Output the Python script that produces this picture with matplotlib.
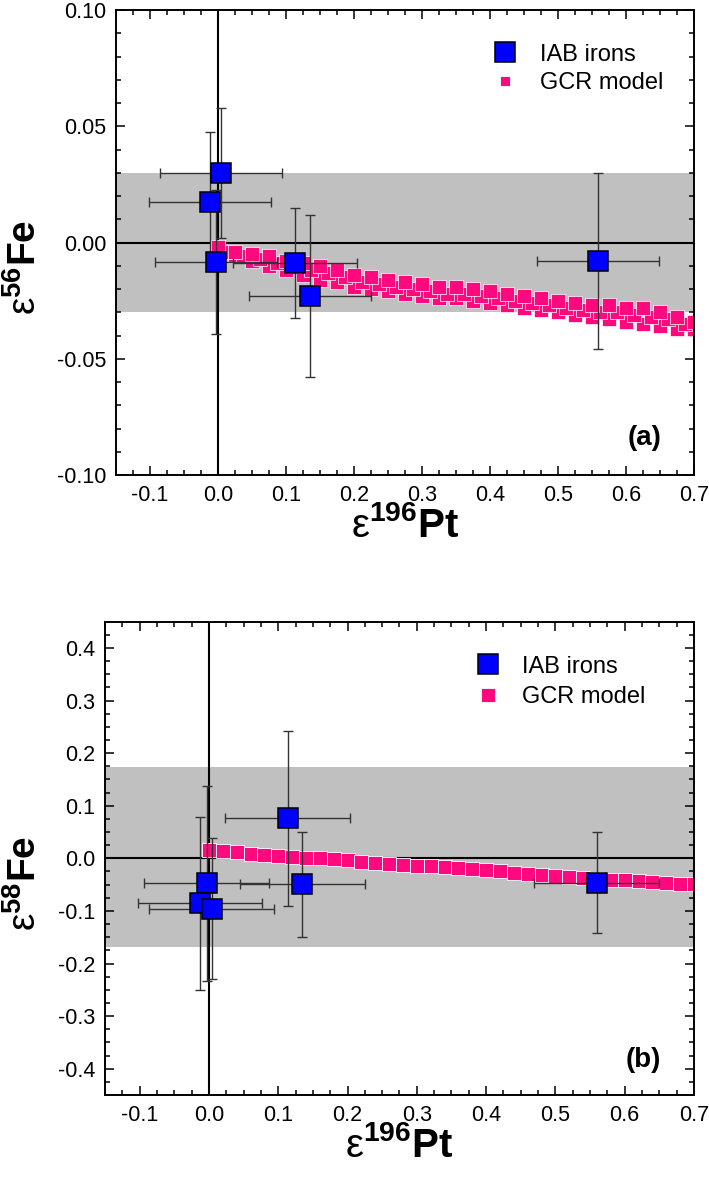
import numpy as np
import matplotlib
matplotlib.use('Agg')
import matplotlib.pyplot as plt
from matplotlib.ticker import MultipleLocator, FormatStrFormatter

plt.rcParams['font.family'] = ['Liberation Sans', 'DejaVu Sans']
plt.rcParams['mathtext.fontset'] = 'custom'
plt.rcParams['mathtext.rm'] = 'Liberation Sans'
plt.rcParams['mathtext.bf'] = 'Liberation Sans:bold'
plt.rcParams['axes.unicode_minus'] = False

# IAB irons (measured), eps196Pt with errors
pt_a = [0.004, -0.012, -0.003, 0.113, 0.135, 0.559]
pt_err_a = [0.090, 0.090, 0.090, 0.091, 0.090, 0.090]
fe56 = [0.0298, 0.0176, -0.0085, -0.0088, -0.023, -0.0079]
fe56_err = [0.028, 0.030, 0.031, 0.0235, 0.035, 0.0377]

pt_b = [0.1135, 0.135, -0.003, -0.013, 0.004, 0.5594]
pt_err_b = [0.090, 0.090, 0.090, 0.090, 0.090, 0.090]
fe58 = [0.076, -0.049, -0.0475, -0.0854, -0.096, -0.046]
fe58_err = [0.166, 0.100, 0.186, 0.164, 0.134, 0.096]

# 2-sigma reproducibility bands
band_a = (-0.030, 0.030)
band_b = (-0.168, 0.174)

# GCR model curves, panel (a) (upper and lower edge of the band, plus middle row)
gcr_x_a = [0.000, 0.025, 0.050, 0.075, 0.100, 0.125, 0.150, 0.175, 0.200, 0.225,
           0.250, 0.275, 0.300, 0.325, 0.350, 0.375, 0.400, 0.425, 0.450, 0.475,
           0.500, 0.525, 0.550, 0.575, 0.600, 0.625, 0.650, 0.675, 0.700]
gcr_up_a = [-0.002, -0.004, -0.005, -0.006, -0.008, -0.009, -0.010, -0.012, -0.014, -0.015,
            -0.016, -0.017, -0.018, -0.019, -0.019, -0.020, -0.021, -0.022, -0.023, -0.024,
            -0.025, -0.026, -0.027, -0.027, -0.028, -0.028, -0.030, -0.032, -0.034]
gcr_lo_a = [-0.003, -0.006, -0.008, -0.010, -0.012, -0.014, -0.016, -0.017, -0.019, -0.020,
            -0.021, -0.022, -0.023, -0.024, -0.024, -0.025, -0.026, -0.027, -0.028, -0.029,
            -0.030, -0.031, -0.032, -0.033, -0.034, -0.035, -0.036, -0.037, -0.037]
gcr_xm_a = [0.0125, 0.0375, 0.0625, 0.0875, 0.1125, 0.1375, 0.1625, 0.1875, 0.2125, 0.2375,
            0.2625, 0.2875, 0.3125, 0.3375, 0.3625, 0.3875, 0.4125, 0.4375, 0.4625, 0.4875,
            0.5125, 0.5375, 0.5625, 0.5875, 0.6125, 0.6375, 0.6625, 0.6875]
gcr_m_a = [-0.004, -0.006, -0.007, -0.009, -0.010, -0.012, -0.013, -0.015, -0.017, -0.018,
           -0.019, -0.020, -0.021, -0.022, -0.022, -0.023, -0.024, -0.025, -0.026, -0.027,
           -0.028, -0.029, -0.030, -0.030, -0.031, -0.032, -0.033, -0.035]

# GCR model, panel (b)
gcr_x_b = [0.00, 0.02, 0.04, 0.06, 0.08, 0.10, 0.12, 0.14, 0.16, 0.18, 0.20, 0.22,
           0.24, 0.26, 0.28, 0.30, 0.32, 0.34, 0.36, 0.38, 0.40, 0.42, 0.44, 0.46,
           0.48, 0.50, 0.52, 0.54, 0.56, 0.58, 0.60, 0.62, 0.64, 0.66, 0.68, 0.70]
gcr_b = [0.016, 0.014, 0.012, 0.009, 0.007, 0.005, 0.003, 0.001, 0.000, -0.002, -0.004, -0.006,
         -0.008, -0.010, -0.012, -0.014, -0.015, -0.017, -0.019, -0.021, -0.023, -0.025, -0.027, -0.029,
         -0.031, -0.033, -0.035, -0.037, -0.039, -0.041, -0.042, -0.043, -0.045, -0.046, -0.048, -0.049]

pink = '#FF0A7E'
blue = '#0000FF'
errc = '#333333'

fig = plt.figure(figsize=(7.09, 11.81), dpi=100)
ax1 = fig.add_axes([0.1636, 0.5978, 0.8152, 0.3937])
ax2 = fig.add_axes([0.1481, 0.0728, 0.8307, 0.4008])


def style(ax):
    for s in ax.spines.values():
        s.set_linewidth(1.4)
    ax.xaxis.set_major_locator(MultipleLocator(0.1))
    ax.xaxis.set_minor_locator(MultipleLocator(0.025))
    ax.xaxis.set_major_formatter(FormatStrFormatter('%.1f'))
    ax.tick_params(which='both', direction='in', top=True, right=True, width=1.1,
                   labelsize=15.5, pad=7)
    ax.tick_params(which='major', length=6.5)
    ax.tick_params(which='minor', length=3.6)
    ax.set_xlim(-0.15, 0.7)


# panel (a)
ax1.axhspan(band_a[0], band_a[1], color='#C0C0C0', lw=0, zorder=0)
ax1.axhline(0, color='black', lw=1.5, zorder=1)
ax1.axvline(0, color='black', lw=1.5, zorder=1)
for xs, ys in [(gcr_x_a, gcr_lo_a), (gcr_xm_a, gcr_m_a), (gcr_x_a, gcr_up_a)]:
    ax1.plot(xs, ys, ls='none', marker='s', ms=10.2, mfc=pink, mec='white', mew=0.5, zorder=2)
ax1.plot([], [], ls='none', marker='s', ms=7.5, mfc=pink, mec='white', mew=0.6, label='GCR model')
ax1.errorbar(pt_a, fe56, xerr=pt_err_a, yerr=fe56_err, fmt='none', ecolor=errc, elinewidth=1,
             capsize=3.5, capthick=1, zorder=3)
ax1.plot(pt_a, fe56, ls='none', marker='s', ms=14.4, mfc=blue, mec='black', mew=1.1, zorder=4,
         label='IAB irons')
style(ax1)
ax1.set_ylim(-0.10, 0.10)
ax1.yaxis.set_major_locator(MultipleLocator(0.05))
ax1.yaxis.set_minor_locator(MultipleLocator(0.01))
ax1.yaxis.set_major_formatter(FormatStrFormatter('%.2f'))
ax1.set_xlabel(r'$\mathrm{\varepsilon}^{\mathbf{196}}\mathbf{Pt}$', fontsize=29, labelpad=0)
ax1.set_ylabel(r'$\mathrm{\varepsilon}^{\mathbf{56}}\mathbf{Fe}$', fontsize=28)
ax1.yaxis.set_label_coords(-0.125, 0.446)
ax1.text(0.943, 0.08, '(a)', transform=ax1.transAxes, ha='right', va='center',
         fontsize=20, fontweight='bold')
h, l = ax1.get_legend_handles_labels()
ax1.legend(h[::-1], l[::-1], loc='upper left', bbox_to_anchor=(0.649, 0.928), frameon=False,
           fontsize=17, borderpad=0, borderaxespad=0, handlelength=1.2, handletextpad=0.85,
           labelspacing=0.28)

# panel (b)
ax2.axhspan(band_b[0], band_b[1], color='#C0C0C0', lw=0, zorder=0)
ax2.axhline(0, color='black', lw=1.5, zorder=1)
ax2.axvline(0, color='black', lw=1.5, zorder=1)
ax2.plot(gcr_x_b, gcr_b, ls='none', marker='s', ms=9.4, mfc=pink, mec='white', mew=0.6,
         zorder=2, label='GCR model')
ax2.errorbar(pt_b, fe58, xerr=pt_err_b, yerr=fe58_err, fmt='none', ecolor=errc, elinewidth=1,
             capsize=3.5, capthick=1, zorder=3)
ax2.plot(pt_b, fe58, ls='none', marker='s', ms=14.4, mfc=blue, mec='black', mew=1.1, zorder=4,
         label='IAB irons')
style(ax2)
ax2.set_ylim(-0.45, 0.45)
ax2.yaxis.set_major_locator(MultipleLocator(0.1))
ax2.yaxis.set_minor_locator(MultipleLocator(0.025))
ax2.yaxis.set_major_formatter(FormatStrFormatter('%.1f'))
ax2.set_xlabel(r'$\mathrm{\varepsilon}^{\mathbf{196}}\mathbf{Pt}$', fontsize=29, labelpad=0)
ax2.set_ylabel(r'$\mathrm{\varepsilon}^{\mathbf{58}}\mathbf{Fe}$', fontsize=28)
ax2.yaxis.set_label_coords(-0.104, 0.447)
ax2.text(0.944, 0.074, '(b)', transform=ax2.transAxes, ha='right', va='center',
         fontsize=20, fontweight='bold')
h, l = ax2.get_legend_handles_labels()
ax2.legend(h[::-1], l[::-1], loc='upper left', bbox_to_anchor=(0.626, 0.928), frameon=False,
           fontsize=17, borderpad=0, borderaxespad=0, handlelength=1.2, handletextpad=0.85,
           labelspacing=0.36)

fig.savefig('out.png', dpi=100)
